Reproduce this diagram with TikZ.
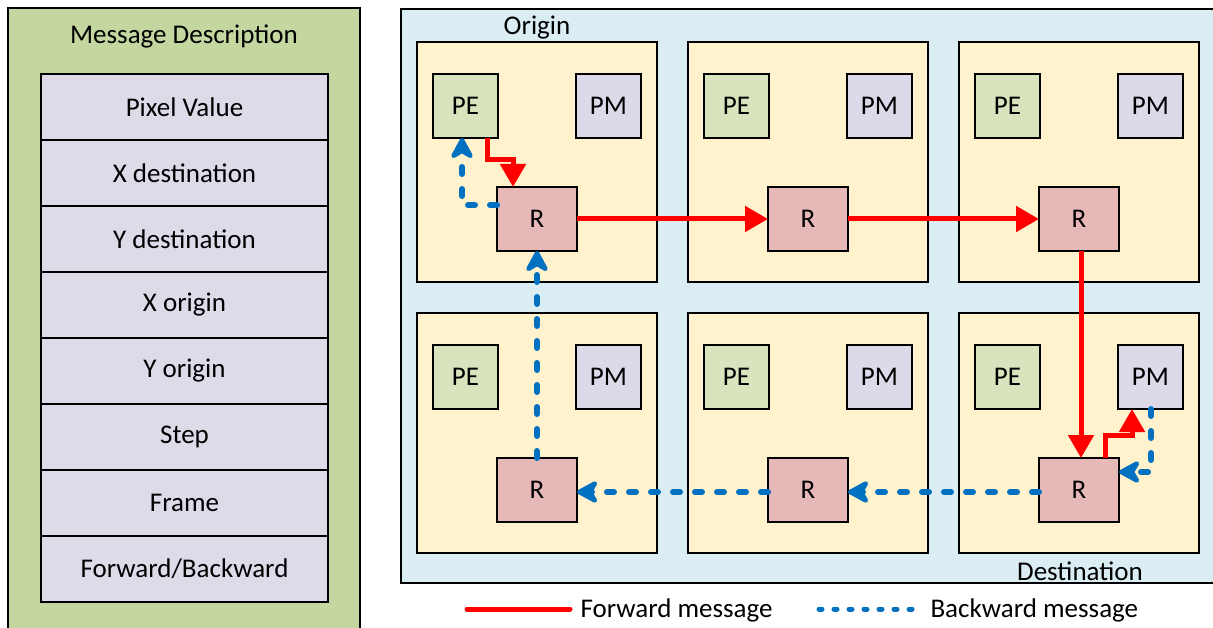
\documentclass[tikz,border=0pt]{standalone}
\usepackage{fontspec}
\setmainfont{Carlito}
\usetikzlibrary{arrows.meta,calc}

\definecolor{panelgreen}{RGB}{196,215,160}
\definecolor{rowlilac}{RGB}{223,218,232}
\definecolor{meshblue}{RGB}{218,237,243}
\definecolor{tilecream}{RGB}{255,242,204}
\definecolor{pegreen}{RGB}{215,228,189}
\definecolor{pmlilac}{RGB}{221,217,232}
\definecolor{routerpink}{RGB}{230,185,184}
\definecolor{fwdred}{RGB}{255,0,0}
\definecolor{bwdblue}{RGB}{0,112,192}

\tikzset{
  txt/.style={font=\fontsize{27}{31}\selectfont, text=black},
  frame/.style={draw=black, line width=1.4pt},
  field/.style={frame, fill=rowlilac, minimum width=287pt, minimum height=66pt,
                inner sep=0pt, outer sep=0pt, txt},
  tile/.style={frame, fill=tilecream, minimum width=240pt, minimum height=240pt,
               inner sep=0pt, outer sep=0pt},
  pebox/.style={frame, fill=pegreen, minimum width=65pt, minimum height=64pt,
                inner sep=0pt, outer sep=0pt, txt},
  pmbox/.style={frame, fill=pmlilac, minimum width=65pt, minimum height=64pt,
                inner sep=0pt, outer sep=0pt, txt},
  router/.style={frame, fill=routerpink, minimum width=80pt, minimum height=64pt,
                 inner sep=0pt, outer sep=0pt, txt},
  fwd/.style={draw=fwdred, line width=5pt, line join=miter,
              -{Triangle[length=23pt,width=25pt]}},
  bwd/.style={draw=bwdblue, line width=6pt, line cap=round, line join=round,
              dash pattern=on 7pt off 15pt,
              -{Stealth[length=26pt,width=28pt,inset=8pt,round]}},
}

\begin{document}
\begin{tikzpicture}[x=1pt,y=-1pt]
  \clip (0,0) rectangle (1213,628);
  \fill[white] (0,0) rectangle (1213,628);

  % message layout panel
  \draw[frame, fill=panelgreen] (8,8) rectangle (360,660);
  \node[txt] (mdtitle) at (184,36) {Message Description};
  \foreach \lbl [count=\k from 0] in {Pixel Value, X destination, Y destination,
      X origin, Y origin, Step, Frame, Forward/Backward}
    \node[field] (fld\k) at (184.5,{107+66*\k}) {\lbl};

  % mesh of tiles
  \draw[frame, fill=meshblue] (401,9) rectangle (1230,583);
  \foreach \c/\x in {0/417, 1/688, 2/959}{
    \foreach \r/\y in {0/42, 1/313}{
      \pgfmathtruncatemacro{\n}{\r*3+\c+1}
      \node[tile] (tile\n) at ({\x+120},{\y+120}) {};
      \node[pebox] (pe\n) at ({\x+48.5},{\y+64}) {PE};
      \node[pmbox] (pm\n) at ({\x+191.5},{\y+64}) {PM};
      \node[router] (r\n) at ({\x+120},{\y+177}) {R};
    }
  }
  \node[txt] (origin) at (537,28) {Origin};
  \node[txt] (dest) at (1080,571) {Destination};

  % forward path: origin PE -> routers -> destination PM
  \draw[fwd] ($(pe1.south east)+(-11,0)$) -- ++(0,22) -| ($(r1.north west)+(16,0)$);
  \draw[fwd] (r1.east) -- (r2.west);
  \draw[fwd] (r2.east) -- (r3.west);
  \draw[fwd] ($(r3.south)+(2,0)$) -- ($(r6.north)+(2,0)$);
  \draw[fwd] ($(r6.north west)+(66,0)$) -- ++(0,-23) -| ($(pm6.south west)+(14,0)$);

  % backward path: destination PM -> routers -> origin PE
  \draw[bwd] ($(pm6.south west)+(33,0)$) |- ($(r6.east)+(0,-18)$);
  \draw[bwd] ($(r6.west)+(0,2)$) -- ($(r5.east)+(0,2)$);
  \draw[bwd] ($(r5.west)+(0,2)$) -- ($(r4.east)+(0,2)$);
  \draw[bwd] (r4.north) -- (r1.south);
  \draw[bwd] ($(r1.west)+(0,-14)$) -| ($(pe1.south west)+(29,0)$);

  % legend
  \node[txt, anchor=west] (fwdtxt) at (577,610) {Forward message};
  \node[txt, anchor=west] (bwdtxt) at (927,610) {Backward message};
  \draw[draw=fwdred, line width=5pt, line cap=round]
    ($(fwdtxt.west)+(-110,-1)$) -- ($(fwdtxt.west)+(-7,-1)$);
  \draw[draw=bwdblue, line width=5pt, line cap=round, dash pattern=on 3pt off 12pt]
    ($(bwdtxt.west)+(-108,-1)$) -- ($(bwdtxt.west)+(-8,-1)$);
\end{tikzpicture}
\end{document}
